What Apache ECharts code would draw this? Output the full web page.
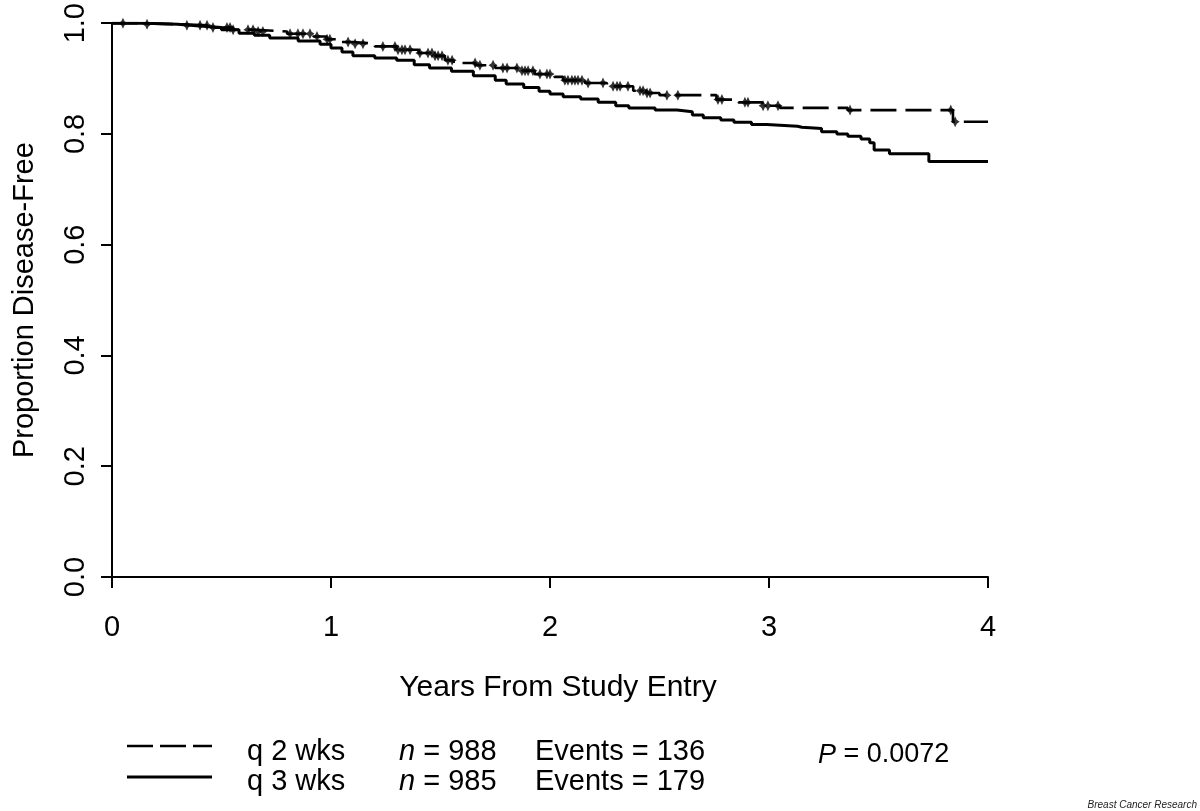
<!DOCTYPE html>
<html>
<head>
<meta charset="utf-8">
<script src="https://cdn.jsdelivr.net/npm/echarts@6/dist/echarts.min.js"></script>
<style>
html,body{margin:0;padding:0;background:#fff;}
#chart{width:1200px;height:811px;}
</style>
</head>
<body>
<div id="chart"></div>
<script>
// q 2 wks (dashed) Kaplan-Meier steps: time (years), proportion disease-free
const q2Time = [0, 0.12, 0.30, 0.45, 0.55, 0.65, 0.80, 0.92, 0.98, 1.05, 1.10, 1.20, 1.30, 1.40, 1.47, 1.52, 1.56, 1.66, 1.75, 1.85, 1.93, 2.02, 2.06, 2.16, 2.26, 2.38, 2.44, 2.50, 2.76, 2.86, 2.97, 3.05, 3.36, 3.84, 4.0];
const q2Surv = [1.0, 0.998, 0.996, 0.992, 0.988, 0.985, 0.981, 0.976, 0.971, 0.966, 0.963, 0.958, 0.952, 0.946, 0.941, 0.933, 0.928, 0.924, 0.919, 0.914, 0.908, 0.903, 0.897, 0.892, 0.886, 0.878, 0.874, 0.870, 0.862, 0.857, 0.851, 0.847, 0.843, 0.822, 0.822];
// q 3 wks (solid)
const q3Time = [0, 0.15, 0.30, 0.40, 0.50, 0.58, 0.65, 0.72, 0.85, 0.95, 1.00, 1.05, 1.10, 1.20, 1.30, 1.38, 1.45, 1.55, 1.65, 1.75, 1.80, 1.88, 1.95, 2.00, 2.06, 2.14, 2.22, 2.30, 2.36, 2.48, 2.58, 2.65, 2.70, 2.78, 2.84, 2.92, 2.99, 3.13, 3.15, 3.24, 3.31, 3.36, 3.42, 3.46, 3.48, 3.55, 3.73, 4.0];
const q3Surv = [1.0, 0.998, 0.995, 0.992, 0.988, 0.982, 0.978, 0.973, 0.968, 0.962, 0.955, 0.948, 0.941, 0.937, 0.933, 0.925, 0.919, 0.913, 0.905, 0.897, 0.890, 0.884, 0.877, 0.872, 0.867, 0.863, 0.857, 0.851, 0.847, 0.843, 0.840, 0.834, 0.829, 0.825, 0.821, 0.817, 0.814, 0.812, 0.810, 0.804, 0.800, 0.796, 0.791, 0.784, 0.771, 0.764, 0.750, 0.750];
// censoring marks on the q 2 wks curve (years)
const q2Censor = [0.050, 0.160, 0.342, 0.402, 0.434, 0.461, 0.525, 0.539, 0.553, 0.621, 0.644, 0.667, 0.689, 0.813, 0.849, 0.872, 0.904, 0.936, 0.982, 0.995, 1.078, 1.110, 1.146, 1.237, 1.292, 1.306, 1.324, 1.338, 1.361, 1.406, 1.443, 1.461, 1.475, 1.489, 1.507, 1.534, 1.553, 1.658, 1.680, 1.740, 1.785, 1.804, 1.849, 1.872, 1.886, 1.900, 1.922, 1.954, 1.986, 2.000, 2.068, 2.082, 2.100, 2.114, 2.128, 2.146, 2.174, 2.242, 2.288, 2.306, 2.320, 2.356, 2.411, 2.425, 2.443, 2.457, 2.534, 2.584, 2.767, 2.785, 2.890, 2.904, 2.973, 2.995, 3.041, 3.370, 3.83, 3.85];

const xTicks = [0, 1, 2, 3, 4];
const yTicks = [0, 0.2, 0.4, 0.6, 0.8, 1.0];
const legendNames = ['q 2 wks', 'q 3 wks'];
const nCounts = [988, 985];
const eventCounts = [136, 179];
const pValue = '0.0072';
const xTitle = 'Years From Study Entry';
const yTitle = 'Proportion Disease-Free';
const credit = 'Breast Cancer Research';

function survAt(times, surv, t) {
  let v = surv[0];
  for (let i = 0; i < times.length; i++) { if (times[i] <= t) v = surv[i]; else break; }
  return v;
}

const q2Data = q2Time.map((t, i) => [t, q2Surv[i]]);
const q3Data = q3Time.map((t, i) => [t, q3Surv[i]]);
const censorData = q2Censor.map(t => [t, survAt(q2Time, q2Surv, t)]);

const FONT = '"Liberation Sans", Arial, Helvetica, sans-serif';
const FS = 29;

const chart = echarts.init(document.getElementById('chart'), null, {renderer: 'canvas'});

const legendRows = [746, 777];
const textRows = [752, 782];
const graphic = [
  {type: 'line', shape: {x1: 127, y1: legendRows[0], x2: 212, y2: legendRows[0]}, style: {stroke: '#000', lineWidth: 2.5, lineDash: [26, 7]}},
  {type: 'line', shape: {x1: 127, y1: legendRows[1], x2: 212, y2: legendRows[1]}, style: {stroke: '#000', lineWidth: 3}}
];
for (let i = 0; i < 2; i++) {
  graphic.push({type: 'text', x: 247, y: textRows[i], style: {text: legendNames[i], fontSize: FS, fontFamily: FONT, fill: '#000', verticalAlign: 'middle'}});
  graphic.push({type: 'text', x: 399, y: textRows[i], style: {text: '{i|n} = ' + nCounts[i], fontSize: FS, fontFamily: FONT, fill: '#000', verticalAlign: 'middle', rich: {i: {fontStyle: 'italic', fontSize: FS, fontFamily: FONT}}}});
  graphic.push({type: 'text', x: 535, y: textRows[i], style: {text: 'Events = ' + eventCounts[i], fontSize: FS, fontFamily: FONT, fill: '#000', verticalAlign: 'middle'}});
}
graphic.push({type: 'text', x: 818, y: 755, style: {text: '{i|P} = ' + pValue, fontSize: 27, fontFamily: FONT, fill: '#000', verticalAlign: 'middle', rich: {i: {fontStyle: 'italic', fontSize: 27, fontFamily: FONT}}}});
graphic.push({type: 'text', right: 3, top: 800, style: {text: credit, fontSize: 10, fontStyle: 'italic', fontFamily: FONT, fill: '#222'}});

chart.setOption({
  animation: false,
  backgroundColor: '#fff',
  grid: {left: 112, right: 212, top: 22, bottom: 234, containLabel: false},
  xAxis: {
    type: 'value', min: xTicks[0], max: xTicks[xTicks.length - 1], interval: 1,
    name: xTitle, nameLocation: 'middle', nameGap: 96,
    nameTextStyle: {fontSize: 30, fontFamily: FONT, color: '#000', padding: [0, 0, 0, 16]},
    axisLine: {onZero: false, lineStyle: {color: '#000', width: 2}},
    axisTick: {length: 11, lineStyle: {color: '#000', width: 2}},
    axisLabel: {fontSize: FS, fontFamily: FONT, color: '#000', margin: 36},
    splitLine: {show: false}
  },
  yAxis: {
    type: 'value', min: yTicks[0], max: yTicks[yTicks.length - 1], interval: 0.2,
    name: yTitle, nameLocation: 'middle', nameGap: 73, nameRotate: 90,
    nameTextStyle: {fontSize: FS, fontFamily: FONT, color: '#000'},
    axisLine: {onZero: false, lineStyle: {color: '#000', width: 2}},
    axisTick: {length: 11, lineStyle: {color: '#000', width: 2}},
    axisLabel: {fontSize: FS, fontFamily: FONT, color: '#000', margin: 22, rotate: 90, formatter: v => v.toFixed(1)},
    splitLine: {show: false}
  },
  series: [
    {type: 'line', data: q2Data, step: 'end', showSymbol: false, symbol: 'none',
     lineStyle: {color: '#000', width: 2.6, type: [26, 9]}, z: 3},
    {type: 'line', data: q3Data, step: 'end', showSymbol: false, symbol: 'none',
     lineStyle: {color: '#000', width: 3}, z: 3},
    {type: 'scatter', data: censorData,
     symbol: 'path://M0,-5 L1.1,-1.8 L3,0 L1.1,1.8 L0,5 L-1.1,1.8 L-3,0 L-1.1,-1.8 Z',
     symbolSize: [9, 11], itemStyle: {color: '#000'}, z: 4}
  ],
  graphic: graphic
});
</script>
</body>
</html>
